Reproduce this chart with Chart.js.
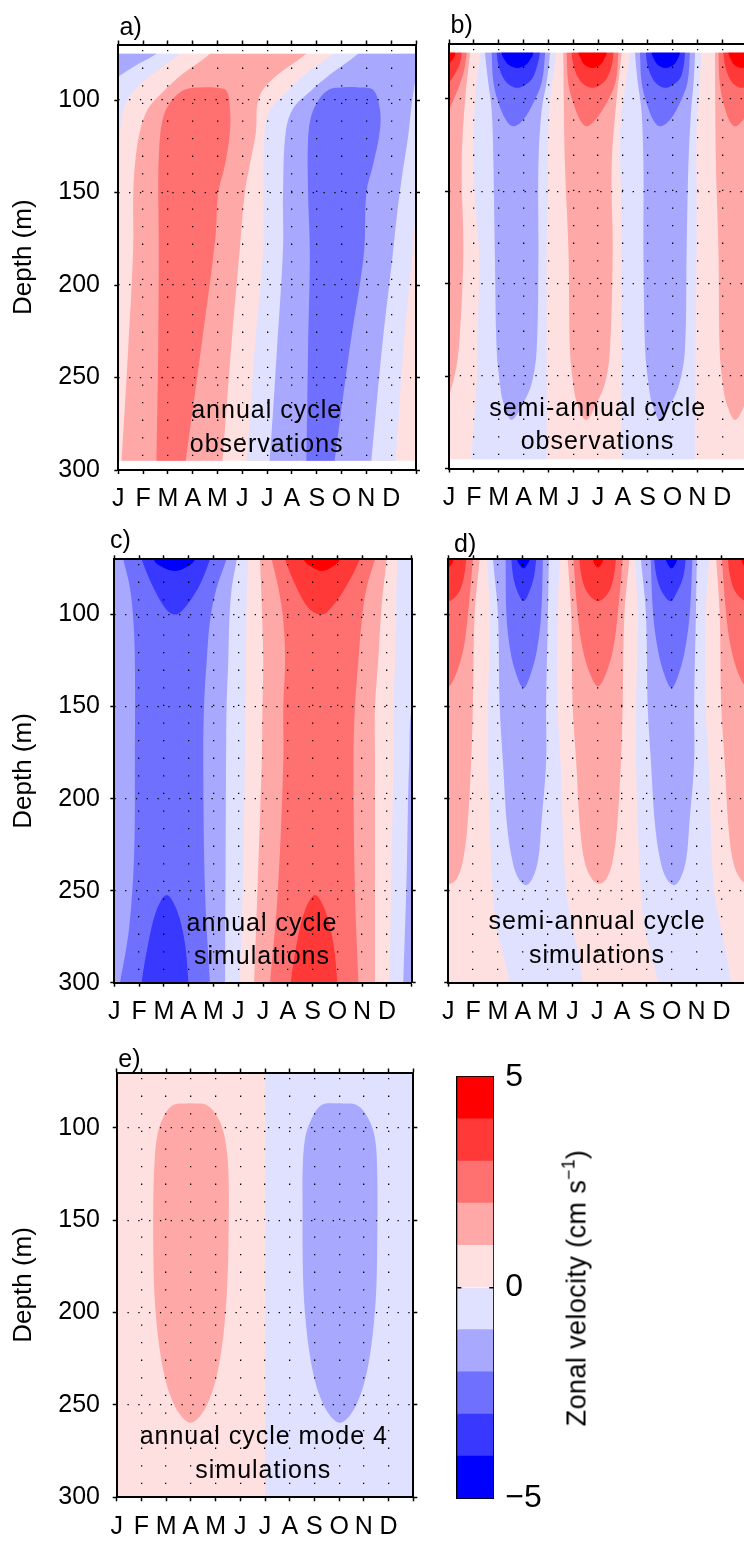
<!DOCTYPE html>
<html><head><meta charset="utf-8">
<script src="https://cdn.jsdelivr.net/npm/chart.js@4/dist/chart.umd.min.js"></script>
<style>
html,body{margin:0;padding:0;background:#fff;width:744px;height:1541px;overflow:hidden;position:relative;}
canvas{position:absolute;left:0;top:0;}
.t{position:absolute;z-index:5;font-family:'Liberation Sans',Arial,sans-serif;font-size:25px;line-height:25px;color:#000;white-space:nowrap;}
.c{transform:translateX(-50%);letter-spacing:1px;}
.cb{font-size:27px;line-height:27px;letter-spacing:0.4px;transform:translate(-50%,-50%) rotate(-90deg);}
.cb sup{font-size:0.65em;line-height:0;vertical-align:0.6em;}
</style></head><body>
<div class="t" style="left:119.5px;top:13.8px">a)</div>
<div class="t" style="left:450.5px;top:11.8px">b)</div>
<div class="t" style="left:110px;top:527.1px">c)</div>
<div class="t" style="left:454px;top:531.1px">d)</div>
<div class="t" style="left:118.3px;top:1045.5px">e)</div>
<div class="t c" style="left:266.7px;top:397.1px">annual cycle</div>
<div class="t c" style="left:266.7px;top:430.5px">observations</div>
<div class="t c" style="left:597.7px;top:394.5px">semi-annual cycle</div>
<div class="t c" style="left:597.5px;top:427.8px">observations</div>
<div class="t c" style="left:262px;top:909.8px">annual cycle</div>
<div class="t c" style="left:262px;top:942.8px">simulations</div>
<div class="t c" style="left:597px;top:908.1px">semi-annual cycle</div>
<div class="t c" style="left:597px;top:942.1px">simulations</div>
<div class="t c" style="left:263.8px;top:1422.8px">annual cycle mode 4</div>
<div class="t c" style="left:263.3px;top:1456.5px">simulations</div>
<div class="t cb" style="left:576.7px;top:1288px">Zonal velocity (cm s<sup>−1</sup>)</div>
<script>
// ---------- axis data ----------
const monthLabels = ['J','F','M','A','M','J','J','A','S','O','N','D'];
const monthTicks = [0,1,2,3,4,5,6,7,8,9,10,11,12];
const gridMonths = [1,2,3,4,5,6,7,8,9,10,11];
const depthTicks = [100,150,200,250,300];
const gridDepths = [100,150,200,250];
const cbLevels = [-5,-4,-3,-2,-1,0,1,2,3,4,5];
const cbTicks = [-5,0,5];
const levelColors = ['#0000ff','#3838ff','#7070ff','#a8a8ff','#e0e0ff','#ffe0e0','#ffa8a8','#ff7070','#ff3838','#ff0000'];

// ---------- panel a: annual cycle, observations (contour regions, [month, depth]) ----------
const aBg = [[-1,62],[13,62],[13,308],[-1,308]];
const aLavTL = [[-1,62],[3.5,62],[2.48,75],[1.34,86.4],[0.6,95.5],[0.23,104.5],[0.07,117],[0,130],[-0.1,150],[-1,160]];
const aBlueTL = [[-1,62],[2.7,62],[1.54,75],[0.75,81],[0,87.3],[-1,95]];
const aLavM = [[9.6,62],[8.66,75],[7.5,86.4],[6.8,95.5],[6.15,104.5],[5.95,112],[5.87,125],[5.84,150],[5.84,180],[5.5,234],[5.17,295],[5.05,308],[11.1,308],[11.18,295],[11.5,234],[11.88,180],[12.05,150],[12.3,120],[13,100],[13,62]];
const aBlueM = [[10.6,62],[9.66,75],[8.52,86.4],[7.72,95.5],[7.05,104.5],[6.75,117],[6.64,150],[6.64,180],[6.4,234],[6.1,295],[6.0,308],[10.1,308],[10.2,295],[10.63,234],[11.05,185],[11.25,160],[11.45,140],[11.68,120],[11.81,104.5],[12,88],[12.3,75],[13,62]];
const aBlue2 = [[7.55,308],[7.58,295],[7.65,234],[7.72,183],[7.65,150],[7.65,121],[7.79,108],[8.12,99],[8.52,94.2],[9.0,93.2],[9.7,93.2],[10.27,94.5],[10.54,104.5],[10.54,117],[10.27,135],[10.0,150],[9.9,183],[9.33,234],[8.72,295],[8.6,308]];
const aRed1 = [[4.5,62],[3.69,75],[2.55,86.4],[1.81,95.5],[1.21,104.5],[0.87,117],[0.67,135],[0.6,153],[0.6,180],[0.4,234],[0.13,295],[0.05,308],[4.1,308],[4.2,295],[4.55,234],[4.9,180],[5.1,150],[5.3,135],[5.55,117],[5.6,103],[5.8,95],[6.42,86.4],[7.58,75],[8.5,62]];
const aRed2 = [[1.54,308],[1.54,295],[1.61,234],[1.63,180],[1.61,144],[1.65,126],[1.74,113.6],[1.95,104.5],[2.35,97.3],[2.75,94],[3.3,93.2],[3.96,93.4],[4.36,95],[4.5,104.5],[4.5,117],[4.3,135],[4.03,150],[3.91,175],[3.34,234],[2.72,295],[2.62,308]];

// ---------- panel b: semi-annual cycle, observations ----------
const bBg = [[-1,62],[13,62],[13,308],[-1,308]];
const bLav1 = [[1.3,62],[1.25,75],[1.05,100],[0.98,136],[1.1,165],[1.22,185],[1.15,230],[1.11,254],[1.0,275],[0.91,295],[0.9,308],[3.93,308],[3.93,295],[3.93,236],[3.93,182],[3.98,150],[4.0,118],[4.07,100],[4.31,75],[4.35,62]];
const bLav2 = [[7.35,62],[7.29,75],[7.02,100],[6.89,118],[6.92,150],[6.95,182],[6.95,236],[6.95,295],[6.95,308],[9.91,308],[9.91,295],[9.93,236],[9.97,182],[9.97,150],[9.97,118],[10.05,100],[10.17,75],[10.2,62]];
const bB1a = [[1.4,62],[1.45,75],[1.58,91],[1.72,106],[1.79,136],[1.85,187],[1.92,236],[2.05,254],[2.19,264.5],[2.52,273.7],[2.99,264.5],[3.33,254],[3.53,236],[3.6,187],[3.6,136],[3.73,106],[3.93,91],[4.07,75],[4.1,62]];
const bB1b = [[1.7,62],[1.72,75],[1.79,91.3],[1.99,102],[2.32,112],[2.59,114.8],[2.99,111.2],[3.4,102],[3.73,91.3],[3.87,75],[3.9,62]];
const bB1c = [[1.88,62],[1.92,75],[2.0,82],[2.2,89],[2.45,92.6],[2.75,94],[3.05,92.6],[3.35,89],[3.55,82],[3.66,75],[3.7,62]];
const bB1d = [[2.1,62],[2.12,75],[2.2,78],[2.4,81.5],[2.75,83.2],[3.1,81.5],[3.3,78],[3.4,75],[3.42,62]];
const bB2a = [[7.45,62],[7.49,75],[7.6,91],[7.75,106],[7.83,136],[7.83,182],[7.9,236],[8.03,254],[8.17,264.5],[8.5,273.7],[8.95,264.5],[9.28,254],[9.5,236],[9.57,182],[9.64,136],[9.75,106],[9.85,91],[9.91,75],[9.95,62]];
const bB2b = [[7.67,62],[7.69,75],[7.76,91.3],[7.95,102],[8.25,112],[8.5,114.8],[8.9,111.2],[9.3,102],[9.6,91.3],[9.7,75],[9.73,62]];
const bB2c = [[7.88,62],[7.93,75],[8.0,82],[8.2,89],[8.43,92.6],[8.72,94],[9.0,92.6],[9.3,89],[9.45,82],[9.5,75],[9.55,62]];
const bB2d = [[8.14,62],[8.16,75],[8.24,78],[8.4,81.5],[8.72,83.2],[9.05,81.5],[9.22,78],[9.3,75],[9.32,62]];
const bR1a = [[4.55,62],[4.6,75],[4.62,100],[4.67,136],[4.81,182],[4.87,236],[5.0,254],[5.15,264.5],[5.52,273.7],[5.95,264.5],[6.28,254],[6.48,236],[6.59,182],[6.55,136],[6.75,100],[6.95,75],[7.0,62]];
const bR1b = [[4.72,62],[4.74,75],[4.8,91.3],[5.0,102],[5.3,112],[5.54,114.8],[5.9,111.2],[6.35,102],[6.7,91.3],[6.82,75],[6.85,62]];
const bR1c = [[4.9,62],[4.94,75],[5.02,82],[5.22,89],[5.47,92.6],[5.78,94],[6.08,92.6],[6.35,89],[6.55,82],[6.62,75],[6.66,62]];
const bR1d = [[5.19,62],[5.21,75],[5.3,78],[5.45,81.5],[5.78,83.2],[6.1,81.5],[6.27,78],[6.35,75],[6.37,62]];
const bRLa = [[-1.5,62],[-1.4,75],[-1.2,150],[-0.9,230],[-0.55,262],[-0.25,272],[0.0,261],[0.3,245],[0.45,225],[0.58,182],[0.51,136],[0.65,100],[0.85,75],[0.9,62]];
const bRLb = [[-1.3,62],[-1.25,75],[-1.0,100],[-0.6,112],[-0.3,115],[0.0,106],[0.35,95],[0.6,85],[0.71,75],[0.75,62]];
const bRLc = [[-1.2,62],[-1.1,75],[-0.7,89],[-0.25,94],[0.0,91.3],[0.3,85],[0.45,80],[0.51,75],[0.55,62]];
const bRLd = [[-0.9,62],[-0.8,75],[-0.5,80],[-0.2,82.5],[0.0,81],[0.18,78],[0.26,75],[0.3,62]];
const bRRa = [[10.68,62],[10.71,75],[10.72,100],[10.75,136],[10.85,182],[10.9,236],[11.02,254],[11.17,264.5],[11.52,273.7],[11.95,264.5],[12.28,254],[12.48,236],[12.6,182],[12.55,136],[12.75,100],[12.95,75],[13,62]];
const bRRb = [[10.83,62],[10.85,75],[10.9,91.3],[11.05,102],[11.3,112],[11.52,114.8],[11.85,111.2],[12.3,102],[12.65,91.3],[12.8,75],[12.85,62]];
const bRRc = [[11.0,62],[11.05,75],[11.12,82],[11.3,89],[11.52,92.6],[11.8,94],[12.1,92.6],[12.4,89],[12.6,82],[12.67,75],[12.75,62]];
const bRRd = [[11.23,62],[11.25,75],[11.33,78],[11.48,81.5],[11.8,83.2],[12.12,81.5],[12.3,78],[12.4,75],[12.45,62]];

// ---------- panel c: annual cycle, simulations ----------
const cBg = [[-1,62],[13,62],[13,308],[-1,308]];
const cLavL = [[-1,62],[5.45,62],[5.41,70],[5.34,95],[5.31,125],[5.29,150],[5.27,179],[5.2,240],[5.07,300],[5.05,308],[-1,308]];
const cLavR = [[11.45,62],[11.42,70],[11.37,95],[11.33,125],[11.26,150],[11.26,179],[11.18,240],[11.1,300],[11.09,308],[13,308],[13,62]];
const cBlueL = [[-1,62],[5.0,62],[4.94,70],[4.74,85.5],[4.64,103.6],[4.6,125],[4.53,150],[4.51,179],[4.49,240],[4.47,300],[4.47,308],[-1,308]];
const cBlueR = [[13,130],[12.1,145],[11.9,180],[11.8,240],[11.66,300],[11.64,308],[13,308]];
const cB2 = [[0.2,62],[0.36,70],[0.63,85.5],[0.77,103.6],[0.83,125],[0.83,180],[0.8,230],[0.6,270],[0.23,300],[0.1,308],[3.9,308],[3.86,300],[3.66,250],[3.59,180],[3.62,150],[3.73,125],[3.86,103.6],[4.13,85.5],[4.53,70],[4.7,62]];
const cB3top = [[0.95,62],[1.10,70],[1.58,85.5],[2.05,96.4],[2.4,100],[2.72,98.2],[3.39,85.5],[3.86,70],[4.0,62]];
const cB3bot = [[1.05,308],[1.1,300],[1.37,278.6],[1.71,260.4],[2.11,252.3],[2.52,260.4],[2.85,278.6],[2.99,300],[3.02,308]];
const cB4 = [[1.5,62],[1.58,70],[1.85,73.7],[2.45,76.4],[2.99,73.7],[3.26,70],[3.35,62]];
const cR1 = [[5.86,62],[5.88,70],[5.95,95],[6.01,125],[5.98,150],[5.95,180],[5.8,240],[5.64,300],[5.6,308],[10.52,308],[10.52,300],[10.52,240],[10.52,180],[10.52,150],[10.65,125],[10.79,95],[10.99,70],[11.05,62]];
const cR2 = [[6.25,62],[6.35,70],[6.62,85.5],[6.82,103.6],[6.89,125],[6.82,150],[6.82,180],[6.6,250],[6.28,300],[6.2,308],[9.87,308],[9.85,300],[9.71,250],[9.65,180],[9.71,150],[9.85,125],[9.98,103.6],[10.18,85.5],[10.52,70],[10.7,62]];
const cR3top = [[6.75,62],[6.89,70],[7.36,85.5],[7.83,96.4],[8.3,100],[8.6,98.5],[9.24,87.3],[9.91,70],[10.05,62]];
const cR3bot = [[7.08,308],[7.12,300],[7.36,278.6],[7.7,260.4],[8.1,252.3],[8.5,260.4],[8.84,278.6],[9.0,300],[9.03,308]];
const cR4 = [[7.55,62],[7.63,70],[7.9,73.7],[8.37,76.4],[8.85,73.7],[9.11,70],[9.2,62]];

// ---------- panel d: semi-annual cycle, simulations ----------
const dBg = [[-1,62],[13,62],[13,308],[-1,308]];
const dLav1 = [[1.55,62],[1.56,70],[1.67,100],[1.6,150],[1.6,180],[1.67,215],[1.8,251],[1.94,270],[2.27,288],[2.47,300],[2.55,308],[5.45,308],[5.41,300],[5.28,288],[5.02,270],[4.75,251],[4.61,215],[4.52,180],[4.4,150],[4.4,100],[4.5,70],[4.55,62]];
const dLav2 = [[7.51,62],[7.52,70],[7.63,100],[7.56,150],[7.56,180],[7.63,215],[7.76,251],[7.9,270],[8.23,288],[8.45,300],[8.52,308],[11.45,308],[11.4,300],[11.24,288],[10.98,270],[10.71,251],[10.57,215],[10.48,180],[10.36,150],[10.36,100],[10.5,70],[10.52,62]];
const dB1a = [[1.78,62],[1.8,70],[2.0,100],[2.07,150],[2.2,180],[2.37,215],[2.6,235],[2.85,244],[3.14,247],[3.4,243],[3.62,233],[3.74,215],[3.94,180],[3.94,150],[4.01,100],[4.05,70],[4.07,62]];
const dB1b = [[2.3,62],[2.31,70],[2.34,100],[2.5,120],[2.75,133],[3.03,140],[3.3,133],[3.56,120],[3.74,100],[3.81,70],[3.82,62]];
const dB1c = [[2.52,62],[2.54,70],[2.62,80],[2.8,88],[3.03,92.7],[3.25,88],[3.44,80],[3.54,70],[3.56,62]];
const dB1d = [[2.75,62],[2.77,70],[2.87,73],[3.03,75],[3.17,73],[3.28,70],[3.3,62]];
const dB2a = [[7.74,62],[7.76,70],[7.96,100],[8.03,150],[8.16,180],[8.33,215],[8.56,235],[8.81,244],[9.1,247],[9.36,243],[9.58,233],[9.7,215],[9.9,180],[9.9,150],[9.97,100],[10.01,70],[10.03,62]];
const dB2b = [[8.13,62],[8.15,70],[8.25,100],[8.45,120],[8.71,133],[8.99,140],[9.26,133],[9.52,120],[9.72,100],[9.83,70],[9.85,62]];
const dB2c = [[8.27,62],[8.29,70],[8.4,80],[8.62,88],[8.95,92.7],[9.2,88],[9.45,80],[9.56,70],[9.58,62]];
const dB2d = [[8.74,62],[8.76,70],[8.85,73],[8.99,75],[9.13,73],[9.22,70],[9.24,62]];
const dR1a = [[4.79,62],[4.81,70],[4.95,100],[5.01,150],[5.15,180],[5.3,215],[5.5,235],[5.8,244],[6.08,246.3],[6.35,244],[6.6,235],[6.8,215],[6.95,180],[7.02,150],[7.09,100],[7.29,70],[7.31,62]];
const dR1b = [[5.02,62],[5.04,70],[5.21,100],[5.4,118],[5.7,132],[6.03,139],[6.35,132],[6.65,118],[6.82,100],[7.02,70],[7.04,62]];
const dR1c = [[5.26,62],[5.28,70],[5.38,80],[5.6,88],[6.03,92.7],[6.45,88],[6.65,80],[6.75,70],[6.77,62]];
const dR1d = [[5.8,62],[5.82,70],[5.9,73],[6.03,74.5],[6.15,73],[6.24,70],[6.26,62]];
const dRLa = [[-1.24,62],[-1.22,70],[-1.08,100],[-1.02,150],[-0.88,180],[-0.73,215],[-0.53,235],[-0.23,244],[0.05,246.3],[0.32,244],[0.57,235],[0.77,215],[0.92,180],[0.99,150],[1.06,100],[1.26,70],[1.28,62]];
const dRLb = [[-1.01,62],[-0.99,70],[-0.82,100],[-0.63,118],[-0.33,132],[0.0,139],[0.32,132],[0.62,118],[0.79,100],[0.99,70],[1.01,62]];
const dRLc = [[-0.77,62],[-0.75,70],[-0.65,80],[-0.43,88],[0.0,92.7],[0.42,88],[0.62,80],[0.72,70],[0.74,62]];
const dRLd = [[-0.23,62],[-0.21,70],[-0.13,73],[0.0,74.5],[0.12,73],[0.21,70],[0.23,62]];
const dRRa = [[10.77,62],[10.79,70],[10.93,100],[10.99,150],[11.13,180],[11.28,215],[11.48,235],[11.78,244],[12.06,246.3],[12.33,244],[12.58,235],[12.78,215],[12.93,180],[13.0,150],[13.07,100],[13.27,70],[13.29,62]];
const dRRb = [[11.0,62],[11.02,70],[11.19,100],[11.38,118],[11.68,132],[12.01,139],[12.33,132],[12.63,118],[12.8,100],[13.0,70],[13.02,62]];
const dRRc = [[11.24,62],[11.26,70],[11.36,80],[11.58,88],[12.01,92.7],[12.43,88],[12.63,80],[12.73,70],[12.75,62]];
const dRRd = [[11.78,62],[11.8,70],[11.88,73],[12.01,74.5],[12.13,73],[12.22,70],[12.24,62]];

// ---------- panel e: annual cycle mode 4, simulations ----------
const eBgL = [[-1,62],[6,62],[6,308],[-1,308]];
const eBgR = [[6,62],[13,62],[13,308],[6,308]];
const eRed = [[2.99,86.7],[2.29,87.6],[1.86,94.9],[1.62,105.8],[1.51,124],[1.48,142],[1.48,165],[1.52,188],[1.61,205],[1.74,220],[1.93,234],[2.2,246],[2.55,255],[2.99,259.6],[3.43,255],[3.78,246],[4.05,234],[4.24,220],[4.37,205],[4.46,188],[4.52,165],[4.52,124],[4.38,105.8],[4.11,94.9],[3.64,87.6]];
const eBlue = [[9.03,86.7],[8.3,87.6],[7.89,94.9],[7.62,105.8],[7.52,124],[7.52,142],[7.52,165],[7.56,188],[7.65,205],[7.78,220],[7.97,234],[8.24,246],[8.59,255],[9.03,259.6],[9.47,255],[9.82,246],[10.09,234],[10.28,220],[10.41,205],[10.5,188],[10.54,165],[10.54,124],[10.45,105.8],[10.18,94.9],[9.71,87.6]];

// layers: [level, polygon, tension] drawn bottom to top
const layersA = [[0.5,aBg,0],[-0.5,aLavTL],[-1.5,aBlueTL],[-0.5,aLavM],[-1.5,aBlueM],[-2.5,aBlue2],[1.5,aRed1],[2.5,aRed2]];
const layersB = [[0.5,bBg,0],[-0.5,bLav1],[-0.5,bLav2],[-1.5,bB1a],[-2.5,bB1b],[-3.5,bB1c],[-4.5,bB1d],[-1.5,bB2a],[-2.5,bB2b],[-3.5,bB2c],[-4.5,bB2d],
  [1.5,bR1a],[2.5,bR1b],[3.5,bR1c],[4.5,bR1d],[1.5,bRLa],[2.5,bRLb],[3.5,bRLc],[4.5,bRLd],[1.5,bRRa],[2.5,bRRb],[3.5,bRRc],[4.5,bRRd]];
const layersC = [[0.5,cBg,0],[-0.5,cLavL],[-0.5,cLavR],[-1.5,cBlueL],[-1.5,cBlueR],[-2.5,cB2],[-3.5,cB3top],[-3.5,cB3bot],[-4.5,cB4],
  [1.5,cR1],[2.5,cR2],[3.5,cR3top],[3.5,cR3bot],[4.5,cR4]];
const layersD = [[0.5,dBg,0],[-0.5,dLav1],[-0.5,dLav2],[-1.5,dB1a],[-2.5,dB1b],[-3.5,dB1c],[-4.5,dB1d],[-1.5,dB2a],[-2.5,dB2b],[-3.5,dB2c],[-4.5,dB2d],
  [1.5,dR1a],[2.5,dR1b],[3.5,dR1c],[4.5,dR1d],[1.5,dRLa],[2.5,dRLb],[3.5,dRLc],[4.5,dRLd],[1.5,dRRa],[2.5,dRRb],[3.5,dRRc],[4.5,dRRd]];
const layersE = [[0.5,eBgL,0],[-0.5,eBgR,0],[1.5,eRed],[-1.5,eBlue]];

// ---------- rendering ----------
const FONT = "'Liberation Sans', Arial, Helvetica, sans-serif";
const W = 760, H = 1541, D0 = 70, D1 = 300;
const colorFor = v => levelColors[Math.floor(v) + 5];

function addCanvas() {
  const c = document.createElement('canvas');
  c.width = W; c.height = H; c.style.width = W + 'px'; c.style.height = H + 'px';
  document.body.appendChild(c);
  return c;
}
const common = {responsive:false, animation:false, events:[], devicePixelRatio:1,
  plugins:{legend:{display:false}, tooltip:{enabled:false}}};

function dataChart(frame, yRange, layers) {
  const k = (frame.B - frame.T) / (D1 - D0);
  const area = {L: frame.L, R: frame.R, T: frame.T + (yRange[0] - D0) * k, B: frame.T + (yRange[1] - D0) * k};
  const datasets = layers.map(([v, pts, t]) => {
    const closed = pts.concat([pts[0]]);
    return {
      data: closed.map(p => ({x: p[0], y: p[1]})),
      showLine: true, fill: 'shape', backgroundColor: colorFor(v),
      borderColor: 'rgba(0,0,0,0)', borderWidth: 0, pointRadius: 0, pointHoverRadius: 0,
      tension: t === undefined ? 0.35 : t
    };
  }).reverse();
  new Chart(addCanvas(), {type:'scatter', data:{datasets}, options:Object.assign({}, common, {
    layout:{padding:{left:area.L, top:area.T, right:W - area.R, bottom:H - area.B}},
    scales:{
      x:{type:'linear', min:0, max:12, display:false},
      y:{type:'linear', min:yRange[0], max:yRange[1], reverse:true, display:false}
    },
    elements:{line:{capBezierPoints:false}}
  })});
}

function axesChart(frame, o) {
  const tickFont = {family: FONT, size: 25};
  const black = '#000';
  const HX = 40;
  const setTicks = arr => (s => { s.ticks = arr.map(v => ({value: v})); });
  const markGrid = {drawOnChartArea:false, drawTicks:true, tickLength:4, tickColor:black, tickWidth:1.5};
  const frameBorder = {display:true, color:black, width:2};
  new Chart(addCanvas(), {type:'scatter', data:{datasets:[]}, options:Object.assign({}, common, {
    layout:{padding:{left:frame.L - o.wy, top:frame.T, right:W - frame.R, bottom:H - frame.B - HX}},
    scales:{
      x:{type:'linear', position:'bottom', min:0, max:12, afterBuildTicks:setTicks(monthTicks),
         ticks:{autoSkip:false, maxRotation:0, minRotation:0, padding:10.5, color:black, font:tickFont,
                callback:(v) => (monthLabels[v] !== undefined ? monthLabels[v] : '')},
         grid:markGrid, border:frameBorder, afterFit:s => { s.height = HX; }},
      xt:{type:'linear', position:'top', min:0, max:12, afterBuildTicks:setTicks(monthTicks),
         ticks:{display:false}, grid:markGrid, border:frameBorder, afterFit:s => { s.height = 0; }},
      xg:{type:'linear', position:'top', min:0, max:12, afterBuildTicks:setTicks(gridMonths),
         ticks:{display:false}, grid:{drawOnChartArea:true, drawTicks:false, color:black, lineWidth:1.3},
         border:{display:false, dash:[1.3,16.3], dashOffset:12.6}, afterFit:s => { s.height = 0; }},
      y:{type:'linear', position:'left', min:D0, max:D1, reverse:true, afterBuildTicks:setTicks(depthTicks),
         ticks:{display:o.labels, padding:o.pad, color:black, font:tickFont},
         grid:markGrid, border:frameBorder,
         title:{display:o.title, text:'Depth (m)', color:black, font:{family:FONT, size:26}, padding:{top:4, bottom:0}},
         afterFit:s => { s.width = o.wy; }},
      yr:{type:'linear', position:'right', min:D0, max:D1, reverse:true, afterBuildTicks:setTicks(depthTicks),
         ticks:{display:false}, grid:markGrid, border:frameBorder, afterFit:s => { s.width = 0; }},
      yg:{type:'linear', position:'right', min:D0, max:D1, reverse:true, afterBuildTicks:setTicks(gridDepths),
         ticks:{display:false}, grid:{drawOnChartArea:true, drawTicks:false, color:black, lineWidth:1.3},
         border:{display:false, dash:[1.3,9.5], dashOffset:0}, afterFit:s => { s.width = 0; }}
    }
  })});
}

const frameA = {L:118.3, T:44.5, R:416, B:470};
const frameB = {L:449, T:43.5, R:747, B:468.5};
const frameC = {L:114.3, T:559.3, R:411.7, B:982.7};
const frameD = {L:448.3, T:559.3, R:746.3, B:982.7};
const frameE = {L:116.7, T:1072.5, R:413.3, B:1497.3};

dataChart(frameA, [75,295], layersA);
axesChart(frameA, {labels:true, title:true, wy:113.9, pad:14.3});
dataChart(frameB, [75,295], layersB);
axesChart(frameB, {labels:false, title:false, wy:10, pad:0});
dataChart(frameC, [70,300], layersC);
axesChart(frameC, {labels:true, title:true, wy:109.9, pad:10.3});
dataChart(frameD, [70,300], layersD);
axesChart(frameD, {labels:false, title:false, wy:10, pad:0});
dataChart(frameE, [70,300], layersE);
axesChart(frameE, {labels:true, title:true, wy:112.3, pad:12.7});

// ---------- colour bar ----------
(function () {
  const cb = {L:457.3, T:1076.7, R:493.3, B:1498.3};
  const WY = 60;
  const datasets = levelColors.map((c, i) => ({
    data:[[cbLevels[i], cbLevels[i + 1]]], backgroundColor:c, borderWidth:0,
    grouped:false, barPercentage:1, categoryPercentage:1
  }));
  const frameBorder = {display:true, color:'#000', width:2};
  new Chart(addCanvas(), {type:'bar', data:{labels:['u'], datasets}, options:Object.assign({}, common, {
    layout:{padding:{left:cb.L, top:cb.T, right:W - cb.R - WY, bottom:H - cb.B}},
    scales:{
      x:{type:'category', position:'bottom', ticks:{display:false}, grid:{display:false}, border:frameBorder, afterFit:s => { s.height = 0; }},
      xt:{type:'category', position:'top', ticks:{display:false}, grid:{display:false}, border:frameBorder, afterFit:s => { s.height = 0; }},
      y:{type:'linear', position:'right', min:-5, max:5, afterBuildTicks:s => { s.ticks = cbTicks.map(v => ({value:v})); },
         ticks:{padding:12, color:'#000', font:{family:FONT, size:32}, callback:v => (v < 0 ? '\u2212' + Math.abs(v) : String(v))},
         grid:{drawOnChartArea:false, drawTicks:false}, border:frameBorder, afterFit:s => { s.width = WY; }},
      yl:{type:'linear', position:'left', min:-5, max:5, ticks:{display:false}, grid:{display:false}, border:frameBorder, afterFit:s => { s.width = 0; }},
      y0:{type:'linear', position:'right', min:-5, max:5, afterBuildTicks:s => { s.ticks = [{value:0}]; },
         ticks:{display:false}, grid:{drawOnChartArea:true, drawTicks:false, color:'#000', lineWidth:1.5, z:1},
         border:{display:false, dash:[4,28]}, afterFit:s => { s.width = 0; }}
    }
  })});
})();
</script>
</body></html>
